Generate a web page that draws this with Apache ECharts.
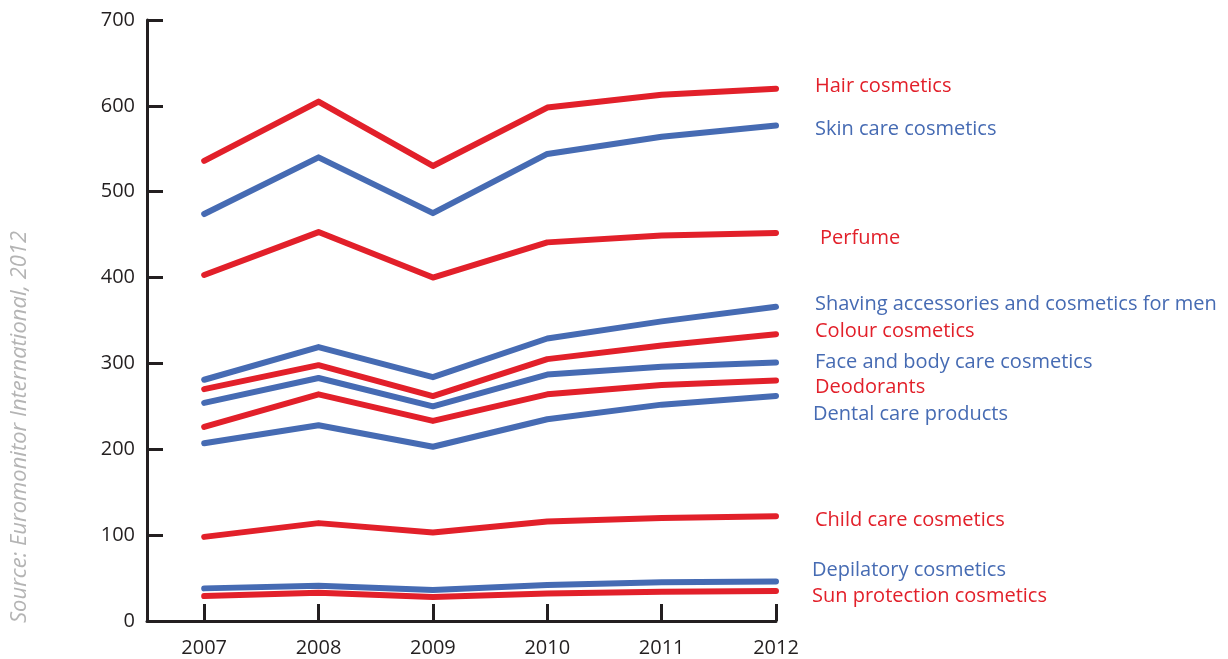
<!DOCTYPE html>
<html>
<head>
<meta charset="utf-8">
<style>
html,body{margin:0;padding:0;background:#fff;}
#chart{width:1228px;height:659px;}
</style>
<script src="https://cdn.jsdelivr.net/npm/echarts@6/dist/echarts.min.js"></script>
</head>
<body>
<div id="chart"></div>
<script>
const years = [2007, 2008, 2009, 2010, 2011, 2012];
const yTicks = [0, 100, 200, 300, 400, 500, 600, 700];

const hairCosmetics      = [536, 605, 530, 598, 613, 620];
const skinCare           = [474, 540, 475, 544, 564, 577];
const perfume            = [403, 453, 400, 441, 449, 452];
const shavingMen         = [281, 319, 284, 329, 349, 366];
const colourCosmetics    = [270, 298, 262, 305, 321, 334];
const faceBodyCare       = [254, 283, 250, 287, 296, 301];
const deodorants         = [226, 264, 233, 264, 275, 280];
const dentalCare         = [207, 228, 203, 235, 252, 262];
const childCare          = [98, 114, 103, 116, 120, 122];
const depilatory         = [38, 41, 36, 42, 45, 46];
const sunProtection      = [29, 33, 28, 32, 34, 35];

const RED = '#e2202a';
const BLUE = '#466bb3';
const DARK = '#231f20';
const FONT = '"Open Sans", "Noto Sans", sans-serif';

const seriesDefs = [
  {name: 'Hair cosmetics', values: hairCosmetics, color: RED, off: [39, -2]},
  {name: 'Skin care cosmetics', values: skinCare, color: BLUE, off: [39, 4]},
  {name: 'Perfume', values: perfume, color: RED, off: [44, 5]},
  {name: 'Shaving accessories and cosmetics for men', values: shavingMen, color: BLUE, off: [39, -2]},
  {name: 'Colour cosmetics', values: colourCosmetics, color: RED, off: [39, -3]},
  {name: 'Face and body care cosmetics', values: faceBodyCare, color: BLUE, off: [39, 0]},
  {name: 'Deodorants', values: deodorants, color: RED, off: [39, 7]},
  {name: 'Dental care products', values: dentalCare, color: BLUE, off: [37, 18]},
  {name: 'Child care cosmetics', values: childCare, color: RED, off: [39, 4]},
  {name: 'Depilatory cosmetics', values: depilatory, color: BLUE, off: [36, -11]},
  {name: 'Sun protection cosmetics', values: sunProtection, color: RED, off: [36, 5]}
];

const chart = echarts.init(document.getElementById('chart'), null, {renderer: 'canvas'});

const option = {
  animation: false,
  backgroundColor: '#fff',
  grid: {left: 147, right: 452, top: 20, bottom: 38, containLabel: false},
  xAxis: {
    type: 'value',
    min: 2006.5,
    max: 2012,
    splitLine: {show: false},
    axisLine: {show: true, onZero: false, lineStyle: {color: DARK, width: 3}},
    axisTick: {show: true, inside: true, length: 17, customValues: years, lineStyle: {color: DARK, width: 3}},
    axisLabel: {show: true, customValues: years, margin: 17, color: DARK, fontSize: 20, fontFamily: FONT,
      formatter: v => String(v)}
  },
  yAxis: {
    type: 'value',
    min: 0,
    max: 700,
    interval: 100,
    splitLine: {show: false},
    axisLine: {show: true, lineStyle: {color: DARK, width: 3}},
    axisTick: {show: true, inside: true, length: 16, lineStyle: {color: DARK, width: 3}},
    axisLabel: {show: true, margin: 12, color: DARK, fontSize: 20, fontFamily: FONT,
      customValues: yTicks}
  },
  graphic: [{
    type: 'text',
    x: 20,
    y: 623,
    rotation: Math.PI / 2,
    style: {
      text: 'Source: Euromonitor International, 2012',
      fill: '#b4b4b4',
      font: 'italic 22px "Open Sans", "Noto Sans", sans-serif',
      textAlign: 'left',
      textVerticalAlign: 'middle'
    }
  }],
  series: seriesDefs.map(d => ({
    type: 'line',
    name: d.name,
    data: years.map((y, i) => [y, d.values[i]]),
    symbol: 'none',
    smooth: false,
    lineStyle: {color: d.color, width: 6, cap: 'round', join: 'round'},
    itemStyle: {color: d.color},
    emphasis: {disabled: true},
    endLabel: {
      show: true,
      formatter: d.name,
      color: d.color,
      fontSize: 20,
      fontFamily: FONT,
      distance: 0,
      offset: d.off,
      align: 'left',
      verticalAlign: 'middle'
    }
  }))
};
chart.setOption(option);
</script>
</body>
</html>
